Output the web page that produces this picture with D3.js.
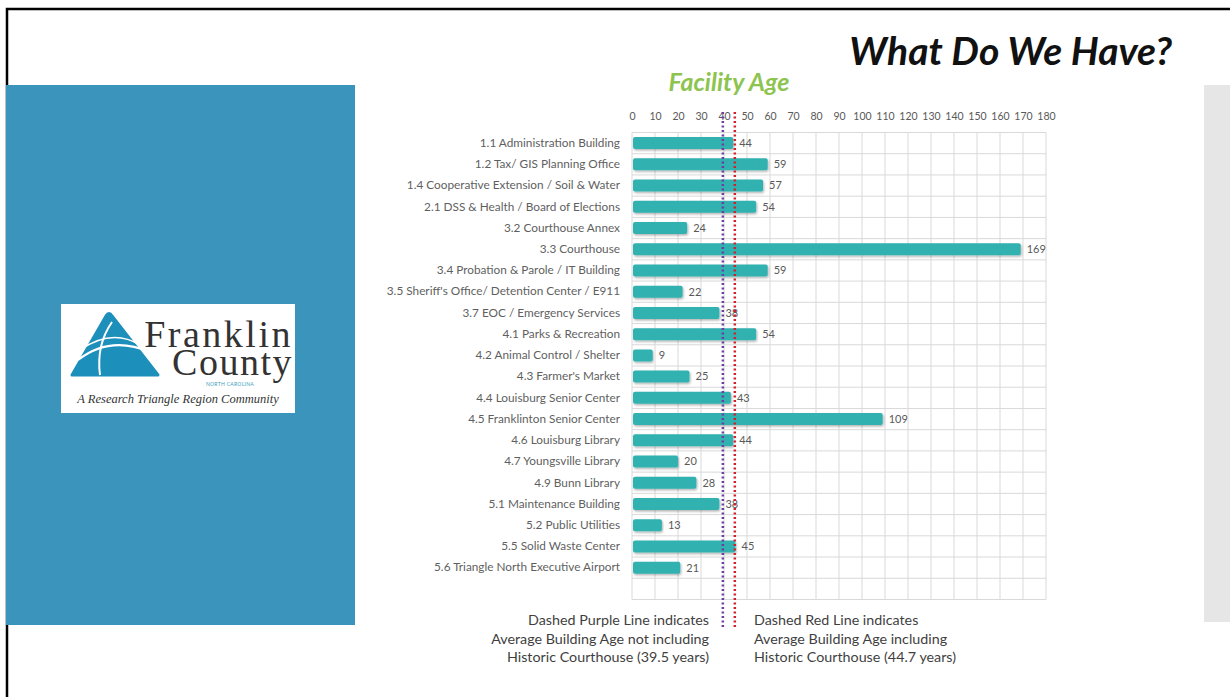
<!DOCTYPE html>
<meta charset="utf-8">
<script src="https://d3js.org/d3.v7.min.js"></script>
<style>
  body { margin: 0; background: #fff; }
  text { font-family: Lato, "Open Sans", sans-serif; }
</style>
<div id="my_dataviz"></div>
<script>

  // facility names and ages (years)
  var categories = [
    "1.1 Administration Building",
    "1.2 Tax/ GIS Planning Office",
    "1.4 Cooperative Extension / Soil & Water",
    "2.1 DSS & Health  / Board of Elections",
    "3.2 Courthouse Annex",
    "3.3 Courthouse",
    "3.4 Probation & Parole / IT Building",
    "3.5 Sheriff's Office/ Detention Center / E911",
    "3.7 EOC / Emergency Services",
    "4.1 Parks & Recreation",
    "4.2 Animal Control / Shelter",
    "4.3 Farmer's Market",
    "4.4 Louisburg Senior Center",
    "4.5 Franklinton Senior Center",
    "4.6 Louisburg Library",
    "4.7 Youngsville Library",
    "4.9 Bunn Library",
    "5.1 Maintenance Building",
    "5.2 Public Utilities",
    "5.5 Solid Waste Center",
    "5.6 Triangle North Executive Airport"
  ];
  var ages = [44, 59, 57, 54, 24, 169, 59, 22, 38, 54, 9, 25, 43, 109, 44, 20, 28, 38, 13, 45, 21];
  var tickValues = [0, 10, 20, 30, 40, 50, 60, 70, 80, 90, 100, 110, 120, 130, 140, 150, 160, 170, 180];

  // average lines
  var avgNoCourthouse = 39.5;
  var avgAll = 44.7;

  var noteLeft = ["Dashed Purple Line indicates", "Average Building Age not including", "Historic Courthouse (39.5 years)"];
  var noteRight = ["Dashed Red Line indicates", "Average Building Age including", "Historic Courthouse (44.7 years)"];

  var W = 1230, H = 697;
  var svg = d3.select("#my_dataviz")
    .append("svg")
      .attr("width", W)
      .attr("height", H);

  var defs = svg.append("defs");
  defs.append("filter").attr("id", "shadow")
      .attr("x", "-5%").attr("y", "-30%").attr("width", "110%").attr("height", "180%")
    .append("feDropShadow")
      .attr("dx", 1).attr("dy", 1.5).attr("stdDeviation", 1)
      .attr("flood-color", "#000").attr("flood-opacity", 0.3);

  // slide frame
  svg.append("path")
    .attr("d", "M7,697 L7,9 L1230,9")
    .attr("fill", "none").attr("stroke", "#000").attr("stroke-width", 2.5);

  // left blue panel
  svg.append("rect").attr("x", 6).attr("y", 85).attr("width", 349).attr("height", 540).attr("fill", "#3a94bb");
  // right grey panel
  svg.append("rect").attr("x", 1204).attr("y", 85).attr("width", 26).attr("height", 537).attr("fill", "#e6e6e6");

  // logo
  var logo = svg.append("g");
  logo.append("rect").attr("x", 61).attr("y", 304).attr("width", 234).attr("height", 109).attr("fill", "#fff");
  logo.append("path")
    .attr("d", "M72,375 L106,316 Q109,311 112,316 L158,375 Z")
    .attr("fill", "#1d8fbb").attr("stroke", "#1d8fbb").attr("stroke-width", 3).attr("stroke-linejoin", "round");
  logo.append("path")
    .attr("d", "M78,360 Q110,335 150,352")
    .attr("fill", "none").attr("stroke", "#fff").attr("stroke-width", 2);
  logo.append("path")
    .attr("d", "M80,350 Q112,328 140,345")
    .attr("fill", "none").attr("stroke", "#fff").attr("stroke-width", 1.5);
  logo.append("path")
    .attr("d", "M100,375 Q96,345 112,322")
    .attr("fill", "none").attr("stroke", "#fff").attr("stroke-width", 2);
  logo.append("text").attr("x", 293).attr("y", 347).attr("text-anchor", "end")
    .style("font-family", "'Liberation Serif', serif").style("font-size", "38px").attr("fill", "#333")
    .attr("letter-spacing", "2.5")
    .text("Franklin");
  logo.append("text").attr("x", 293).attr("y", 375).attr("text-anchor", "end")
    .style("font-family", "'Liberation Serif', serif").style("font-size", "38px").attr("fill", "#333")
    .attr("letter-spacing", "1.5")
    .text("County");
  logo.append("text").attr("x", 230).attr("y", 386).attr("text-anchor", "middle")
    .style("font-size", "5px").attr("fill", "#3aa0c0").attr("letter-spacing", "0.3")
    .text("NORTH CAROLINA");
  logo.append("text").attr("x", 178).attr("y", 403).attr("text-anchor", "middle")
    .style("font-family", "'Liberation Serif', serif").style("font-style", "italic").style("font-size", "12.5px").attr("fill", "#333")
    .text("A Research Triangle Region Community");

  // titles
  svg.append("text").attr("x", 1172).attr("y", 65).attr("text-anchor", "end")
    .style("font-size", "39px").style("font-weight", "bold").style("font-style", "italic").attr("fill", "#111")
    .text("What Do We Have?");
  svg.append("text").attr("x", 729).attr("y", 91).attr("text-anchor", "middle")
    .style("font-size", "25px").style("font-weight", "bold").style("font-style", "italic").attr("fill", "#8dc450")
    .text("Facility Age");

  // scales
  var x = d3.scaleLinear().domain([0, 180]).range([632, 1046]);
  var rows = categories.concat([""]);
  var y = d3.scaleBand().domain(rows).range([132.5, 599.5]);
  var barH = 12;

  // grid
  var grid = svg.append("g").attr("stroke", "#d9d9d9").attr("stroke-width", 1);
  grid.selectAll("line.v").data(tickValues).enter().append("line")
    .attr("x1", function(d) { return x(d); }).attr("x2", function(d) { return x(d); })
    .attr("y1", y.range()[0]).attr("y2", y.range()[1]);
  grid.selectAll("line.h").data(rows.map(function(r) { return y(r); }).concat([y.range()[1]])).enter().append("line")
    .attr("x1", x(0)).attr("x2", x(180))
    .attr("y1", function(d) { return d; }).attr("y2", function(d) { return d; });

  // top axis labels
  var xAxis = svg.append("g")
    .attr("transform", "translate(0," + (y.range()[0] - 13) + ")")
    .call(d3.axisTop(x).tickValues(tickValues).tickSize(0).tickPadding(0));
  xAxis.select(".domain").remove();
  xAxis.selectAll("text").style("font-family", "Lato, sans-serif").style("font-size", "10.5px").attr("fill", "#595959");

  // category labels
  var yAxis = svg.append("g")
    .attr("transform", "translate(620,0)")
    .call(d3.axisLeft(y).tickSize(0).tickPadding(0));
  yAxis.select(".domain").remove();
  yAxis.selectAll("text").style("font-family", "Lato, sans-serif").style("font-size", "11.8px").attr("fill", "#5f5f5f");

  // bars
  svg.append("g").selectAll("rect")
    .data(ages).enter().append("rect")
      .attr("x", x(0) + 1)
      .attr("y", function(d, i) { return y(categories[i]) + (y.bandwidth() - barH) / 2; })
      .attr("width", function(d) { return x(d) - x(0) - 1; })
      .attr("height", barH)
      .attr("rx", 2)
      .attr("fill", "#33b1b1")
      .attr("filter", "url(#shadow)");

  // value labels
  svg.append("g").selectAll("text")
    .data(ages).enter().append("text")
      .attr("x", function(d) { return x(d) + 6; })
      .attr("y", function(d, i) { return y(categories[i]) + y.bandwidth() / 2; })
      .attr("dy", "0.35em")
      .style("font-size", "11px").attr("fill", "#595959")
      .text(function(d) { return d; });

  // average lines
  svg.append("line")
    .attr("x1", x(avgNoCourthouse)).attr("x2", x(avgNoCourthouse))
    .attr("y1", 112).attr("y2", 627)
    .attr("stroke", "#6b3fa0").attr("stroke-width", 2.5).attr("stroke-dasharray", "2,2.5");
  svg.append("line")
    .attr("x1", x(avgAll)).attr("x2", x(avgAll))
    .attr("y1", 112).attr("y2", 627)
    .attr("stroke", "#d0202a").attr("stroke-width", 2.5).attr("stroke-dasharray", "2,2.5");

  // notes
  svg.append("g").selectAll("text").data(noteLeft).enter().append("text")
    .attr("x", 709).attr("y", function(d, i) { return 625 + i * 18.5; })
    .attr("text-anchor", "end")
    .style("font-size", "14.3px").attr("fill", "#3f3f3f")
    .text(function(d) { return d; });
  svg.append("g").selectAll("text").data(noteRight).enter().append("text")
    .attr("x", 754).attr("y", function(d, i) { return 625 + i * 18.5; })
    .style("font-size", "14.3px").attr("fill", "#3f3f3f")
    .text(function(d) { return d; });

</script>
